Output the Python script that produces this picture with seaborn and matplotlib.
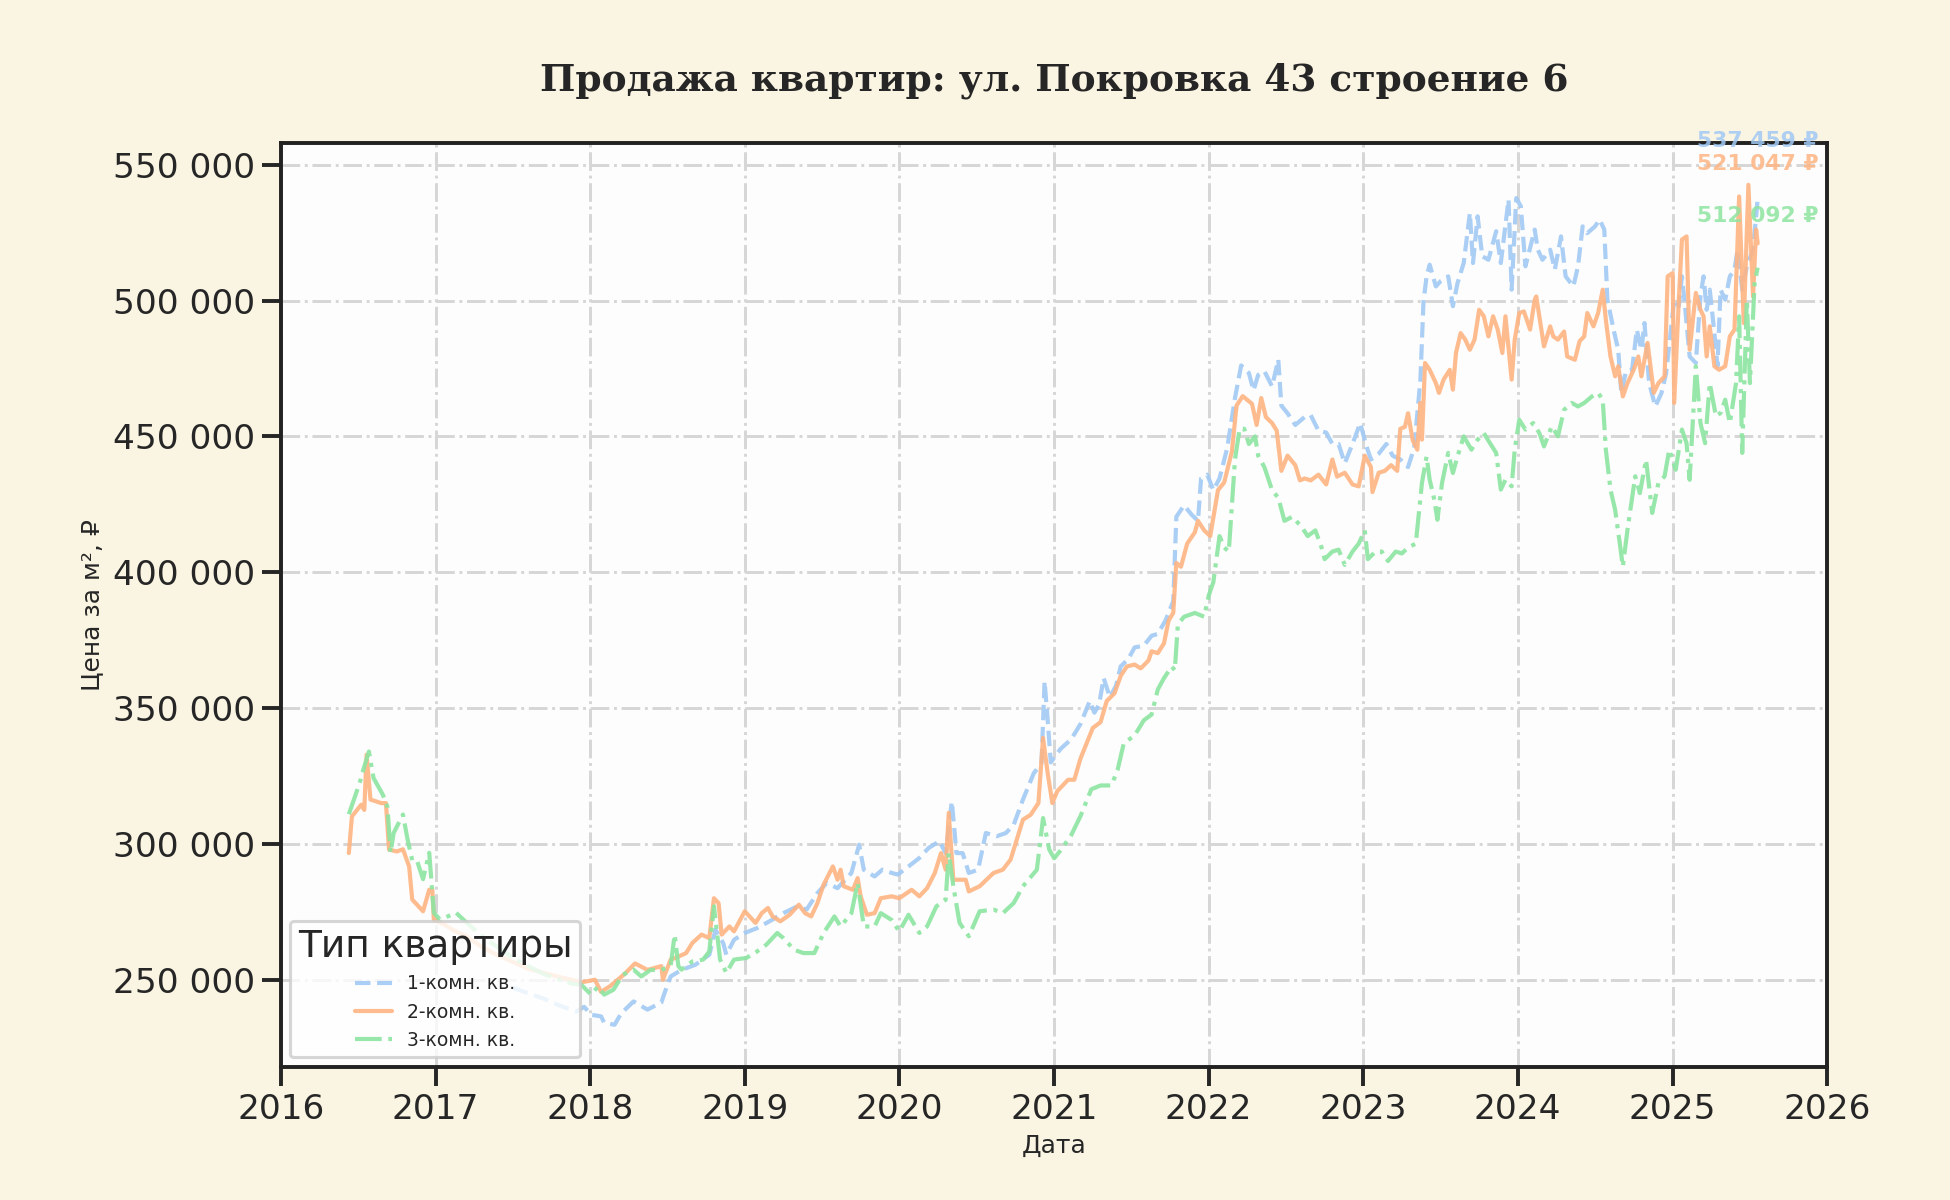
import numpy as np
import pandas as pd
import matplotlib
matplotlib.use("Agg")
import matplotlib.pyplot as plt
import matplotlib.dates as mdates
from matplotlib.ticker import FuncFormatter
import seaborn as sns

# ---- data (decimal year, price per m2 in rubles) ----
series_names = ["1-комн. кв.", "2-комн. кв.", "3-комн. кв."]

years_1k = [
    2017.50, 2017.60, 2017.70, 2017.80, 2017.91, 2017.96, 2018.006, 2018.07, 2018.09, 2018.157,
    2018.20, 2018.28, 2018.37, 2018.46, 2018.48, 2018.52, 2018.59, 2018.68, 2018.77, 2018.81,
    2018.86, 2018.88, 2018.93, 2019.00, 2019.08, 2019.16, 2019.25, 2019.34, 2019.40, 2019.47,
    2019.53, 2019.60, 2019.69, 2019.74, 2019.77, 2019.84, 2019.89, 2019.95, 2019.99, 2020.06,
    2020.13, 2020.19, 2020.26, 2020.30, 2020.34, 2020.37, 2020.41, 2020.45, 2020.51, 2020.56,
    2020.63, 2020.69, 2020.74, 2020.80, 2020.87, 2020.92, 2020.94, 2020.96, 2020.98, 2021.04,
    2021.11, 2021.17, 2021.23, 2021.26, 2021.29, 2021.32, 2021.36, 2021.40, 2021.43, 2021.48,
    2021.52, 2021.58, 2021.63, 2021.67, 2021.72, 2021.77, 2021.79, 2021.84, 2021.89, 2021.93,
    2021.95, 2021.99, 2022.03, 2022.07, 2022.12, 2022.17, 2022.21, 2022.26, 2022.29, 2022.32,
    2022.36, 2022.41, 2022.45, 2022.47, 2022.51, 2022.56, 2022.62, 2022.66, 2022.71, 2022.76,
    2022.80, 2022.84, 2022.88, 2022.93, 2022.98, 2023.02, 2023.05, 2023.10, 2023.15, 2023.19,
    2023.24, 2023.29, 2023.33, 2023.37, 2023.39, 2023.41, 2023.43, 2023.47, 2023.50, 2023.55,
    2023.58, 2023.61, 2023.65, 2023.69, 2023.71, 2023.74, 2023.77, 2023.81, 2023.86, 2023.89,
    2023.94, 2023.96, 2023.99, 2024.02, 2024.05, 2024.11, 2024.13, 2024.16, 2024.21, 2024.24,
    2024.28, 2024.31, 2024.36, 2024.39, 2024.42, 2024.45, 2024.50, 2024.53, 2024.56, 2024.58,
    2024.62, 2024.65, 2024.67, 2024.70, 2024.74, 2024.77, 2024.80, 2024.82, 2024.85, 2024.89,
    2024.93, 2024.96, 2025.01, 2025.04, 2025.06, 2025.08, 2025.11, 2025.15, 2025.18, 2025.20,
    2025.22, 2025.24, 2025.27, 2025.29, 2025.31, 2025.34, 2025.37, 2025.40, 2025.42, 2025.45,
    2025.48, 2025.52, 2025.55,
]
price_1k = [
    247000, 245000, 243000, 240500, 238300, 240000, 237100, 236500, 234200, 233400,
    237600, 242000, 239000, 241600, 245000, 251200, 253600, 255500, 259200, 268400,
    263500, 259200, 264700, 267200, 269000, 271500, 274500, 277000, 275800, 281900,
    285600, 283700, 289300, 299700, 290500, 288000, 290500, 289300, 288700, 291700,
    294800, 298500, 301000, 296600, 315600, 296600, 296600, 289300, 290500, 304000,
    302800, 304000, 307000, 316300, 326000, 329700, 359800, 345500, 330000, 334900,
    338500, 344100, 352600, 348300, 351200, 361000, 354000, 358200, 365300, 368100,
    372300, 373000, 376600, 377300, 382200, 389300, 420400, 424600, 421100, 418900,
    434500, 435900, 430200, 434500, 445800, 464100, 476100, 473300, 466900, 472600,
    474000, 468400, 478300, 461300, 458500, 454200, 457100, 457800, 452100, 451400,
    447200, 447200, 440100, 447200, 454900, 446500, 441500, 443600, 447200, 442900,
    441500, 438700, 445800, 470900, 499700, 508900, 513200, 505200, 507100, 508900,
    497900, 506400, 513800, 532200, 513800, 531000, 516300, 515000, 525500, 513800,
    537100, 504000, 537700, 534700, 512600, 526100, 518700, 515000, 518700, 511400,
    523600, 508900, 505200, 512600, 527300, 524800, 527300, 529800, 526100, 500300,
    489300, 481900, 466000, 473900, 474500, 489300, 481900, 491700, 469600, 461000,
    466000, 473300, 500300, 497900, 508900, 497900, 479400, 477000, 501500, 508900,
    496600, 504000, 488000, 475800, 504000, 500300, 508900, 511400, 518700, 504000,
    512600, 518700, 537459,
]

years_2k = [
    2016.44, 2016.46, 2016.52, 2016.54, 2016.555, 2016.58, 2016.65, 2016.68, 2016.70, 2016.75,
    2016.79, 2016.83, 2016.85, 2016.92, 2016.96, 2016.98, 2016.99, 2017.05, 2017.12, 2017.20,
    2017.30, 2017.40, 2017.50, 2017.60, 2017.70, 2017.80, 2017.88, 2017.94, 2018.03, 2018.07,
    2018.13, 2018.22, 2018.29, 2018.37, 2018.46, 2018.47, 2018.52, 2018.55, 2018.62, 2018.66,
    2018.72, 2018.77, 2018.80, 2018.83, 2018.85, 2018.90, 2018.93, 2019.00, 2019.07, 2019.11,
    2019.15, 2019.18, 2019.23, 2019.29, 2019.35, 2019.39, 2019.43, 2019.47, 2019.51, 2019.57,
    2019.60, 2019.62, 2019.64, 2019.70, 2019.73, 2019.75, 2019.79, 2019.84, 2019.88, 2019.95,
    2020.00, 2020.08, 2020.13, 2020.18, 2020.23, 2020.27, 2020.30, 2020.32, 2020.35, 2020.39,
    2020.43, 2020.45, 2020.52, 2020.61, 2020.67, 2020.72, 2020.76, 2020.80, 2020.85, 2020.90,
    2020.93, 2020.96, 2020.99, 2021.02, 2021.09, 2021.13, 2021.17, 2021.22, 2021.25, 2021.30,
    2021.34, 2021.39, 2021.43, 2021.47, 2021.52, 2021.56, 2021.61, 2021.63, 2021.67, 2021.71,
    2021.74, 2021.77, 2021.79, 2021.82, 2021.86, 2021.91, 2021.93, 2021.97, 2022.01, 2022.06,
    2022.10, 2022.15, 2022.18, 2022.22, 2022.28, 2022.31, 2022.34, 2022.37, 2022.41, 2022.44,
    2022.47, 2022.51, 2022.56, 2022.59, 2022.62, 2022.66, 2022.71, 2022.76, 2022.80, 2022.83,
    2022.88, 2022.93, 2022.97, 2023.01, 2023.05, 2023.06, 2023.10, 2023.14, 2023.18, 2023.22,
    2023.24, 2023.27, 2023.29, 2023.32, 2023.35, 2023.37, 2023.38, 2023.40, 2023.43, 2023.47,
    2023.49, 2023.52, 2023.56, 2023.58, 2023.60, 2023.63, 2023.66, 2023.69, 2023.72, 2023.75,
    2023.78, 2023.81, 2023.84, 2023.87, 2023.90, 2023.92, 2023.96, 2023.98, 2024.01, 2024.04,
    2024.08, 2024.11, 2024.12, 2024.15, 2024.17, 2024.21, 2024.23, 2024.26, 2024.30, 2024.32,
    2024.37, 2024.40, 2024.43, 2024.45, 2024.49, 2024.52, 2024.55, 2024.57, 2024.60, 2024.63,
    2024.65, 2024.68, 2024.71, 2024.75, 2024.78, 2024.80, 2024.84, 2024.88, 2024.91, 2024.95,
    2024.97, 2025.00, 2025.01, 2025.04, 2025.06, 2025.09, 2025.11, 2025.15, 2025.18, 2025.20,
    2025.22, 2025.24, 2025.27, 2025.30, 2025.34, 2025.37, 2025.40, 2025.43, 2025.46, 2025.49,
    2025.52, 2025.54, 2025.55,
]
price_2k = [
    296600, 310100, 314400, 312500, 332800, 316300, 315000, 315000, 297900, 297200,
    298000, 291700, 279500, 275200, 283100, 283000, 272000, 270500, 268000, 266000,
    262000, 259000, 256500, 254000, 252500, 251000, 250000, 249000, 250000, 245500,
    247700, 252000, 256000, 253600, 255000, 250000, 257400, 258000, 259800, 263500,
    266600, 265300, 280000, 278200, 266600, 269600, 267800, 275200, 270900, 274500,
    276400, 273300, 271500, 273900, 277600, 274500, 273300, 278200, 285000, 291700,
    286800, 290500, 284400, 283100, 287400, 280700, 273900, 274500, 280000, 280700,
    280000, 283100, 280700, 283700, 289300, 296600, 290500, 311400, 286800, 286800,
    286800, 282500, 284400, 289300, 290500, 294200, 301500, 308900, 310700, 315000,
    339000, 326000, 315000, 319400, 323600, 323600, 331400, 338500, 342700, 344800,
    352600, 355400, 361800, 365300, 366000, 364600, 367500, 370900, 370200, 373800,
    382200, 385000, 403400, 402000, 410500, 414700, 418900, 415400, 413300, 430200,
    433000, 444400, 461300, 464800, 462000, 454200, 464100, 457100, 454900, 452100,
    437300, 442900, 439400, 433800, 434500, 433800, 435900, 432300, 441500, 435200,
    436600, 432300, 431600, 442900, 438700, 429500, 436600, 437300, 439400, 437300,
    452800, 453500, 458500, 448600, 445100, 462300, 448800, 477000, 474500, 469600,
    466000, 470900, 474500, 467200, 480700, 488000, 485600, 481900, 485600, 496600,
    494200, 486800, 494200, 489300, 480700, 494200, 470900, 485600, 495400, 496000,
    489300, 500300, 501500, 490500, 483100, 490500, 486800, 485600, 488600, 479400,
    478200, 485000, 486800, 495400, 490500, 495400, 504000, 492900, 479400, 472100,
    475800, 464700, 469600, 474500, 479400, 472100, 484400, 466000, 469600, 472100,
    508900, 510100, 462300, 500300, 522400, 523600, 481900, 502800, 496600, 494200,
    479400, 490500, 475800, 474500, 475800, 486800, 489300, 538300, 491700, 542600,
    501500, 526100, 521047,
]

years_3k = [
    2016.44, 2016.51, 2016.54, 2016.57, 2016.60, 2016.66, 2016.69, 2016.71, 2016.73, 2016.79,
    2016.82, 2016.85, 2016.88, 2016.92, 2016.96, 2016.99, 2017.03, 2017.13, 2017.20, 2017.30,
    2017.40, 2017.50, 2017.60, 2017.70, 2017.80, 2017.88, 2017.94, 2018.006, 2018.05, 2018.09,
    2018.15, 2018.21, 2018.28, 2018.33, 2018.39, 2018.46, 2018.52, 2018.546, 2018.57, 2018.59,
    2018.66, 2018.73, 2018.77, 2018.80, 2018.84, 2018.88, 2018.93, 2019.01, 2019.08, 2019.14,
    2019.21, 2019.25, 2019.32, 2019.38, 2019.45, 2019.51, 2019.58, 2019.62, 2019.69, 2019.73,
    2019.77, 2019.84, 2019.88, 2019.95, 2020.00, 2020.06, 2020.13, 2020.18, 2020.24, 2020.30,
    2020.32, 2020.35, 2020.39, 2020.45, 2020.52, 2020.61, 2020.67, 2020.74, 2020.80, 2020.89,
    2020.93, 2020.97, 2021.00, 2021.04, 2021.11, 2021.17, 2021.24, 2021.30, 2021.37, 2021.41,
    2021.45, 2021.52, 2021.58, 2021.63, 2021.67, 2021.71, 2021.76, 2021.78, 2021.80, 2021.84,
    2021.91, 2021.97, 2022.00, 2022.03, 2022.07, 2022.10, 2022.13, 2022.17, 2022.20, 2022.23,
    2022.26, 2022.30, 2022.32, 2022.36, 2022.41, 2022.45, 2022.49, 2022.54, 2022.60, 2022.64,
    2022.69, 2022.73, 2022.75, 2022.80, 2022.84, 2022.88, 2022.93, 2022.97, 2023.01, 2023.03,
    2023.08, 2023.12, 2023.16, 2023.21, 2023.25, 2023.29, 2023.34, 2023.38, 2023.41, 2023.43,
    2023.46, 2023.48, 2023.51, 2023.55, 2023.58, 2023.61, 2023.65, 2023.70, 2023.74, 2023.78,
    2023.82, 2023.86, 2023.89, 2023.92, 2023.96, 2023.98, 2024.01, 2024.05, 2024.10, 2024.14,
    2024.17, 2024.22, 2024.26, 2024.30, 2024.35, 2024.39, 2024.43, 2024.48, 2024.52, 2024.55,
    2024.57, 2024.60, 2024.63, 2024.66, 2024.68, 2024.71, 2024.76, 2024.79, 2024.83, 2024.87,
    2024.91, 2024.95, 2024.98, 2025.02, 2025.06, 2025.09, 2025.11, 2025.15, 2025.18, 2025.21,
    2025.24, 2025.28, 2025.31, 2025.34, 2025.37, 2025.41, 2025.43, 2025.45, 2025.48, 2025.50,
    2025.53, 2025.55,
]
price_3k = [
    310900, 322400, 328500, 334000, 324200, 318100, 313600, 296700, 304000, 310800,
    301600, 294000, 294000, 287000, 296700, 274600, 272000, 274700, 271000, 266000,
    262000, 258000, 255000, 252000, 250000, 248500, 248200, 244500, 247500, 244500,
    246300, 251800, 253700, 251200, 253600, 253600, 255000, 266600, 255000, 253700,
    256700, 257400, 260400, 277000, 257400, 252500, 257400, 258000, 260400, 262900,
    267200, 265300, 261000, 259800, 259800, 267200, 273300, 269600, 274500, 285600,
    269600, 269600, 274500, 272000, 267800, 273900, 267200, 269600, 277000, 279400,
    296600, 284400, 270900, 266000, 275200, 275800, 274500, 278200, 284400, 290500,
    309500, 297900, 294700, 297500, 303200, 310200, 320100, 321500, 321500, 327200,
    337000, 339900, 345500, 347600, 356800, 361000, 365300, 363900, 380800, 383600,
    385000, 383600, 391400, 396300, 413300, 409100, 407600, 441500, 452800, 452800,
    447200, 450000, 442900, 438700, 430200, 427400, 418900, 420400, 416800, 413300,
    415400, 409100, 404800, 407600, 408300, 402700, 407600, 410500, 415400, 404800,
    407600, 407600, 404100, 407600, 406900, 409100, 410500, 432900, 442600, 434000,
    426700, 419300, 432900, 443900, 436500, 442600, 450000, 445100, 448800, 451200,
    447500, 443900, 430400, 434000, 431600, 445100, 456100, 452500, 454900, 451200,
    446300, 453700, 450000, 459800, 462300, 461000, 462300, 464700, 466000, 463500,
    445100, 430400, 423000, 410700, 402100, 415600, 435300, 429100, 441400, 421800,
    432900, 435300, 445100, 437700, 452500, 447500, 434000, 475800, 454900, 447500,
    469600, 457400, 458600, 463500, 454900, 469600, 494200, 443900, 500300, 469600,
    506400, 512092,
]

palette = sns.color_palette("pastel")[:3]
line_styles = ["--", "-", "-."]


def to_dates(years):
    years = np.asarray(years, dtype=float)
    whole = np.floor(years).astype(int)
    start = pd.to_datetime(pd.Series(whole).astype(str) + "-01-01")
    return start + pd.to_timedelta((years - whole) * 365.25, unit="D")


frames = []
for name, yrs, vals in zip(series_names,
                           [years_1k, years_2k, years_3k],
                           [price_1k, price_2k, price_3k]):
    frames.append(pd.DataFrame({"date": to_dates(yrs), "price": vals, "type": name}))
df = pd.concat(frames, ignore_index=True)

# ---- style ----
sns.set_theme(context="talk", style="ticks")
plt.rcParams["font.family"] = ["DejaVu Sans", "Noto Sans"]

fig, ax = plt.subplots(figsize=(13, 8), dpi=150)
fig.patch.set_facecolor("#faf4e2")
ax.set_facecolor("#fdfdfd")
fig.subplots_adjust(left=0.144, right=0.937, top=0.881, bottom=0.111)

for name, color, ls in zip(series_names, palette, line_styles):
    sub = df[df["type"] == name]
    sns.lineplot(data=sub, x="date", y="price", color=color, linestyle=ls,
                 linewidth=2.0, alpha=0.9, label=name, ax=ax)

# подписи последних значений
text_offsets = [27.7, 37.9, 24.7]
for name, color, off in zip(series_names, palette, text_offsets):
    sub = df[df["type"] == name]
    last = sub.iloc[-1]
    ax.annotate(f"{last['price']:,.0f} ₽".replace(",", " "),
                xy=(last["date"], last["price"]), xytext=(0, off),
                textcoords="offset points", ha="center", va="center",
                fontsize=10.5, fontweight="bold", color=color, alpha=0.85,
                annotation_clip=False, zorder=5)

ax.set_xlim(pd.Timestamp("2016-01-01"), pd.Timestamp("2026-01-01"))
ax.xaxis.set_major_locator(mdates.YearLocator())
ax.xaxis.set_major_formatter(mdates.DateFormatter("%Y"))
ax.yaxis.set_major_formatter(FuncFormatter(lambda v, p: f"{v:,.0f}".replace(",", " ")))

ax.grid(True, linestyle="-.", color="#d6d6d6", linewidth=1.4)
for sp in ax.spines.values():
    sp.set_visible(True)
    sp.set_color("#222222")

ax.set_title("Продажа квартир: ул. Покровка 43 строение 6",
             family="DejaVu Serif", fontweight="bold", fontsize=18, pad=25)
ax.set_xlabel("Дата", fontsize=12)
ax.set_ylabel("Цена за м², ₽", fontsize=12)

leg = ax.legend(title="Тип квартиры", fontsize=9, loc="lower left")
leg.get_frame().set_facecolor("white")
leg.get_frame().set_edgecolor("#cccccc")

fig.savefig("out.png", dpi=150, facecolor=fig.get_facecolor())
